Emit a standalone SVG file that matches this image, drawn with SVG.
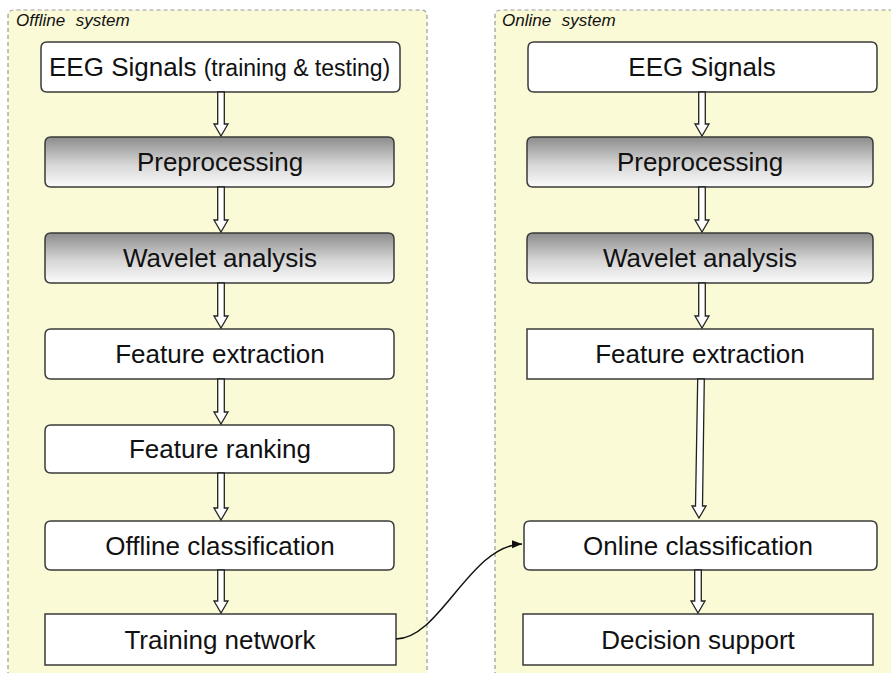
<svg xmlns="http://www.w3.org/2000/svg" width="891" height="673" viewBox="0 0 891 673">
<defs>
<linearGradient id="g" x1="0" y1="0" x2="0" y2="1">
<stop offset="0" stop-color="#8c8c8c"/>
<stop offset="0.55" stop-color="#d6d6d6"/>
<stop offset="1" stop-color="#fbfbfb"/>
</linearGradient>
<marker id="ah" viewBox="0 0 10 10" refX="10" refY="5" markerWidth="10" markerHeight="10" markerUnits="userSpaceOnUse" orient="auto">
<path d="M0,1 L10,5 L0,9 Z" fill="#111"/>
</marker>
<style>
.cont{fill:#fbfad6;stroke:#9a9a9a;stroke-width:1.2;stroke-dasharray:4 3}
.title{font-family:"Liberation Sans",Arial,sans-serif;font-style:italic;font-size:17px;word-spacing:6px;fill:#111}
.box{fill:#fff;stroke:#3a3a3a;stroke-width:1.5}
.grad{fill:url(#g);stroke:#3a3a3a;stroke-width:1.5}
.lbl{font-family:"Liberation Sans",Arial,sans-serif;font-size:26px;fill:#111;text-anchor:middle}
.small{font-size:23px}
.arr{fill:#fff;stroke:#222;stroke-width:1.3}
.curve{fill:none;stroke:#111;stroke-width:1.5}
</style>
</defs>
<g id="offline-system">
<path class="cont" d="M8,690 L8,16 Q8,10 14,10 L421,10 Q427,10 427,16 L427,690"/>
<text class="title" x="16" y="26">Offline system</text>
</g>
<g id="online-system">
<path class="cont" d="M495,690 L495,16 Q495,10 501,10 L900,10 L900,690 Z"/>
<text class="title" x="502" y="26">Online system</text>
</g>
<g id="off-eeg">
<path class="box" d="M47,42 L394,42 Q400,42 400,48 L400,86 Q400,92 394,92 L47,92 Q41,92 41,86 L41,48 Q41,42 47,42 Z"/>
<text class="lbl" x="49" y="76" style="text-anchor:start">EEG Signals <tspan class="small">(training &amp; testing)</tspan></text>
</g>
<g id="off-pre">
<path class="grad" d="M51,137 L388,137 Q394,137 394,143 L394,181 Q394,187 388,187 L51,187 Q45,187 45,181 L45,143 Q45,137 51,137 Z"/>
<text class="lbl" x="220" y="171">Preprocessing</text>
</g>
<g id="off-wav">
<path class="grad" d="M51,233 L388,233 Q394,233 394,239 L394,277 Q394,283 388,283 L51,283 Q45,283 45,277 L45,239 Q45,233 51,233 Z"/>
<text class="lbl" x="220" y="267">Wavelet analysis</text>
</g>
<g id="off-fe">
<path class="box" d="M51,329 L388,329 Q394,329 394,335 L394,373 Q394,379 388,379 L51,379 Q45,379 45,373 L45,335 Q45,329 51,329 Z"/>
<text class="lbl" x="220" y="363">Feature extraction</text>
</g>
<g id="off-fr">
<path class="box" d="M51,425 L388,425 Q394,425 394,431 L394,467 Q394,473 388,473 L51,473 Q45,473 45,467 L45,431 Q45,425 51,425 Z"/>
<text class="lbl" x="220" y="458">Feature ranking</text>
</g>
<g id="off-oc">
<path class="box" d="M51,521 L388,521 Q394,521 394,527 L394,564 Q394,570 388,570 L51,570 Q45,570 45,564 L45,527 Q45,521 51,521 Z"/>
<text class="lbl" x="220" y="555">Offline classification</text>
</g>
<g id="off-tn">
<rect class="box" x="45" y="614" width="351" height="51"/>
<text class="lbl" x="220" y="649">Training network</text>
</g>
<g id="on-eeg">
<path class="box" d="M534,42 L871,42 Q877,42 877,48 L877,86 Q877,92 871,92 L534,92 Q528,92 528,86 L528,48 Q528,42 534,42 Z"/>
<text class="lbl" x="702" y="76">EEG Signals</text>
</g>
<g id="on-pre">
<path class="grad" d="M533,137 L867,137 Q873,137 873,143 L873,181 Q873,187 867,187 L533,187 Q527,187 527,181 L527,143 Q527,137 533,137 Z"/>
<text class="lbl" x="700" y="171">Preprocessing</text>
</g>
<g id="on-wav">
<path class="grad" d="M533,233 L867,233 Q873,233 873,239 L873,277 Q873,283 867,283 L533,283 Q527,283 527,277 L527,239 Q527,233 533,233 Z"/>
<text class="lbl" x="700" y="267">Wavelet analysis</text>
</g>
<g id="on-fe">
<rect class="box" x="527" y="329" width="346" height="50"/>
<text class="lbl" x="700" y="363">Feature extraction</text>
</g>
<g id="on-oc">
<path class="box" d="M530,521 L871,521 Q877,521 877,527 L877,564 Q877,570 871,570 L530,570 Q524,570 524,564 L524,527 Q524,521 530,521 Z"/>
<text class="lbl" x="698" y="555">Online classification</text>
</g>
<g id="on-ds">
<rect class="box" x="523" y="614" width="350" height="51"/>
<text class="lbl" x="698" y="649">Decision support</text>
</g>
<g id="connectors">
<polygon class="arr" points="217.7,92 224.3,92 224.3,124 228,124 221,136 214,124 217.7,124"/>
<polygon class="arr" points="217.7,187 224.3,187 224.3,220 228,220 221,232 214,220 217.7,220"/>
<polygon class="arr" points="217.7,283 224.3,283 224.3,316 228,316 221,328 214,316 217.7,316"/>
<polygon class="arr" points="217.7,379 224.3,379 224.3,412 228,412 221,424 214,412 217.7,412"/>
<polygon class="arr" points="217.7,473 224.3,473 224.3,508 228,508 221,520 214,508 217.7,508"/>
<polygon class="arr" points="217.7,570 224.3,570 224.3,601 228,601 221,613 214,601 217.7,601"/>
<polygon class="arr" points="698.7,92 705.3,92 705.3,124 709,124 702,136 695,124 698.7,124"/>
<polygon class="arr" points="698.7,187 705.3,187 705.3,220 709,220 702,232 695,220 698.7,220"/>
<polygon class="arr" points="698.7,283 705.3,283 705.3,316 709,316 702,328 695,316 698.7,316"/>
<polygon class="arr" points="697.7,379 704.3,379 702.5,506 706,506 699,518 692,506 695.5,506"/>
<polygon class="arr" points="694.7,570 701.3,570 701.3,601 705,601 698,613 691,601 694.7,601"/>
<path class="curve" d="M396,639 C440,639 470,545 522,544" marker-end="url(#ah)"/>
</g>
</svg>
